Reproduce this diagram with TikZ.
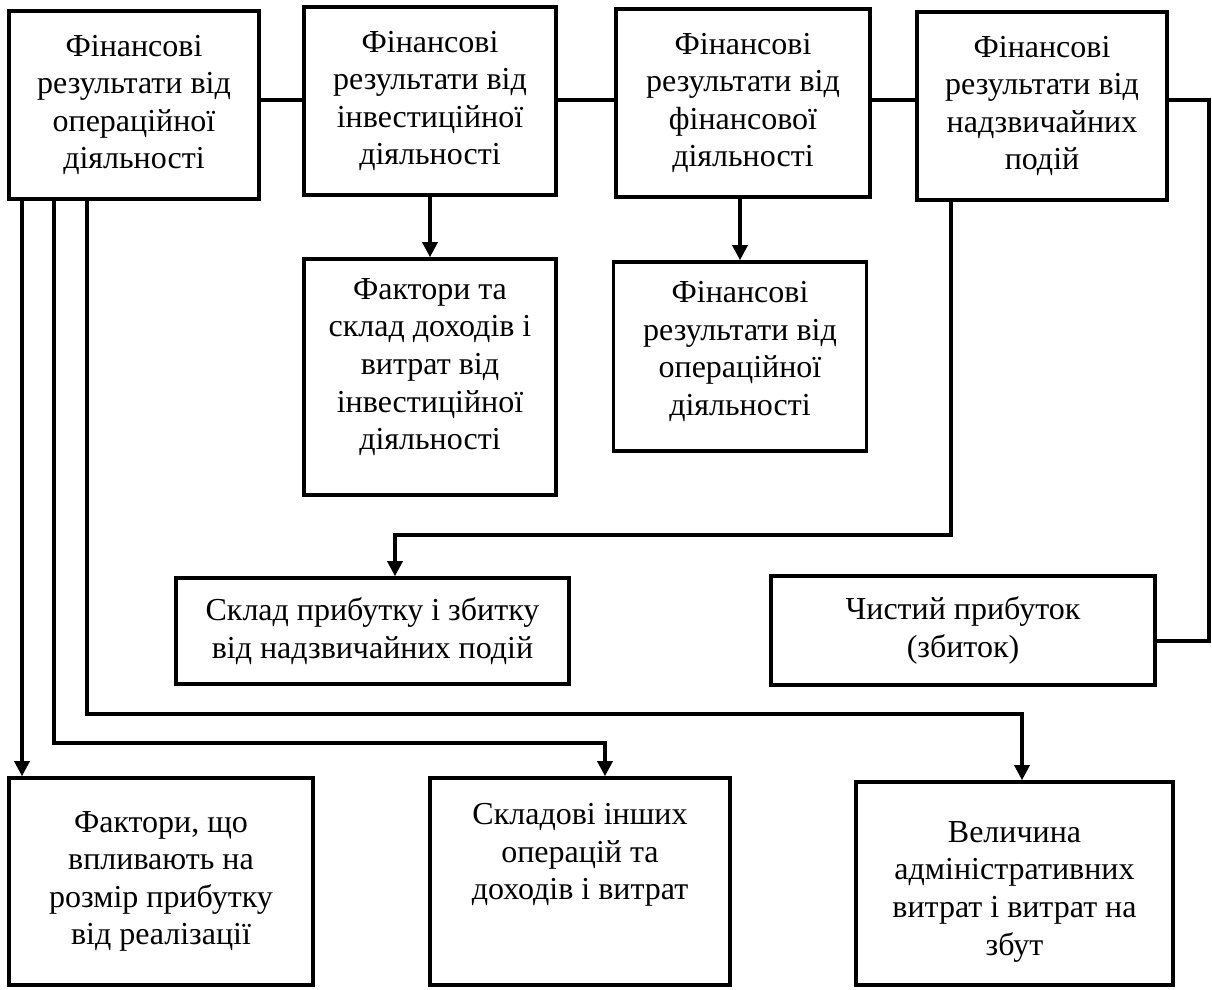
\documentclass[tikz,border=0pt]{standalone}
\usepackage{fontspec}
\setmainfont{Liberation Serif}
\usetikzlibrary{arrows.meta}
\newcommand\boxfont{\fontsize{16pt}{18.8pt}\selectfont}
\tikzset{
  box/.style={draw, line width=1.8pt, align=center, inner sep=0pt, font=\boxfont},
  conn/.style={line width=1.6pt},
  arr/.style={conn, -{Triangle[width=7.5pt,length=7.5pt]}}
}
\begin{document}
\begin{tikzpicture}[x=0.5pt,y=-0.5pt]
\useasboundingbox (0,0) rectangle (1212,990);
% top row
\node[box, minimum width=125pt, minimum height=94pt] (A) at (134,105) {Фінансові\\результати від\\операційної\\діяльності};
\node[box, minimum width=126pt, minimum height=94pt] (B) at (430,101) {Фінансові\\результати від\\інвестиційної\\діяльності};
\node[box, minimum width=127pt, minimum height=94pt] (C) at (743,103) {Фінансові\\результати від\\фінансової\\діяльності};
\node[box, minimum width=125pt, minimum height=94pt] (D) at (1042,106) {Фінансові\\результати від\\надзвичайних\\подій};
% second row
\node[box, minimum width=126pt, minimum height=118pt, text depth=13pt] (B2) at (430,377) {Фактори та\\склад доходів і\\витрат від\\інвестиційної\\діяльності};
\node[box, minimum width=126.5pt, minimum height=94.5pt, text depth=8pt] (C2) at (740,356.5) {Фінансові\\результати від\\операційної\\діяльності};
% third row
\node[box, minimum width=196.5pt, minimum height=53pt] (E) at (372.5,631) {Склад прибутку і збитку\\від надзвичайних подій};
\node[box, minimum width=192pt, minimum height=54.5pt] (F) at (963,630.5) {Чистий прибуток\\(збиток)};
% bottom row
\node[box, minimum width=152pt, minimum height=103.5pt] (G) at (161,881.5) {Фактори, що\\впливають на\\розмір прибутку\\від реалізації};
\node[box, minimum width=150pt, minimum height=103.5pt, text depth=30pt] (H) at (580,881.5) {Складові інших\\операцій та\\доходів і витрат};
\node[box, minimum width=158.5pt, minimum height=101.5pt, text height=75pt] (I) at (1014.5,883.5) {Величина\\адміністративних\\витрат і витрат на\\збут};
% helper coordinates
\coordinate (hy) at (0,100);
\coordinate (rt) at (1209,100);
\coordinate (rb) at (1209,641);
\coordinate (d1) at (951,535);
\coordinate (d2) at (395,535);
\coordinate (a1) at (22,0);
\coordinate (a2) at (54,743);
\coordinate (a2r) at (605,743);
\coordinate (a3) at (87,714);
\coordinate (a3r) at (1022,714);
% top connectors
\draw[conn] (A.east |- hy) -- (B.west |- hy);
\draw[conn] (B.east |- hy) -- (C.west |- hy);
\draw[conn] (C.east |- hy) -- (D.west |- hy);
\draw[conn] (D.east |- hy) -- (rt) -- (rb) -- (F.east |- rb);
% arrows down
\draw[arr] (B.south) -- (B2.north);
\draw[arr] (C2.north |- C.south) -- (C2.north);
\draw[arr] (D.south -| d1) -- (d1) -- (d2) -- (E.north -| d2);
\draw[arr] (A.south -| a1) -- (G.north -| a1);
\draw[arr] (A.south -| a2) -- (a2) -- (a2r) -- (H.north -| a2r);
\draw[arr] (A.south -| a3) -- (a3) -- (a3r) -- (I.north -| a3r);
\end{tikzpicture}
\end{document}
